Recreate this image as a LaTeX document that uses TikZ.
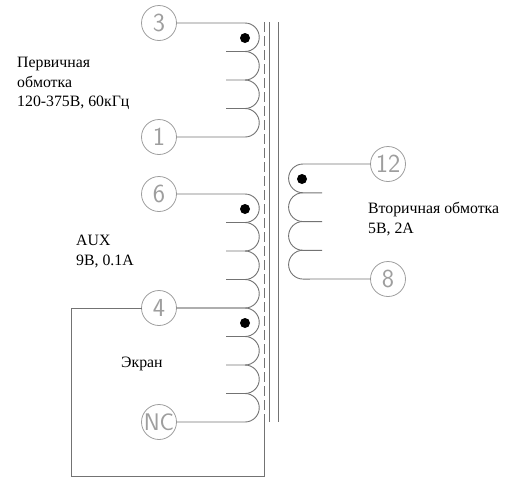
\documentclass[tikz,border=0pt]{standalone}
\usepackage{fontspec}
\setmainfont{Liberation Serif}
\usepackage{tikz}
\usetikzlibrary{positioning}

\definecolor{wirecol}{gray}{0.45}
\definecolor{termcol}{gray}{0.62}

\begin{document}
\begin{tikzpicture}[x=1pt, y=-1pt,
	term/.style={draw=termcol, circle, minimum size=35pt, inner sep=0pt, outer sep=0pt, line width=0.8pt, text=termcol, font=\fontsize{26}{26}\sffamily},
	wire/.style={draw=wirecol, line width=0.9pt},
	dotmark/.style={fill=black, circle, minimum size=10pt, inner sep=0pt},
	label/.style={align=left, anchor=north west, inner sep=0pt, font=\fontsize{15.8}{19.5}\selectfont},
	node distance=79pt]

	\useasboundingbox (0,0) rectangle (512,477);

	% Terminals
	\node (t3) [term] at (159,23) {3};
	\node (t1) [term, below=of t3] {1};
	\node (t6) [term] at (159,194) {6};
	\node (t4) [term, below=of t6] {4};
	\node (tNC) [term, below=of t4, font=\fontsize{24}{24}\sffamily] {NC};
	\node (t12) [term] at (388,164) {12};
	\node (t8) [term, below=80pt of t12] {8};

	% Coil start marks
	\node (d3) [dotmark] at (245,38) {};
	\node (d6) [dotmark] at (245,209) {};
	\node (d4) [dotmark] at (245,323) {};
	\node (d12) [dotmark] at (302,179) {};

	% Text
	\node (prim) [label] at (17,57) {Первичная\\обмотка\\120-375В, 60кГц};
	\node (aux) [label] at (76,235) {AUX\\9В, 0.1А};
	\node (scr) [label] at (121,357) {Экран};
	\node (sec) [label] at (368,202) {Вторичная обмотка\\5В, 2А};

	% Primary
	\draw[wire] (t3) -- (245,23) arc[start angle=-90, end angle=90, radius=14.25] -- ++(-19,0);
	\draw[wire] (245,51.5) arc[start angle=-90, end angle=90, radius=14.25] -- ++(-19,0);
	\draw[wire] (245,80) arc[start angle=-90, end angle=90, radius=14.25] -- ++(-19,0);
	\draw[wire] (245,108.5) arc[start angle=-90, end angle=90, radius=14.25] -- (t1);

	% AUX
	\draw[wire] (t6) -- (245,194) arc[start angle=-90, end angle=90, radius=14.25] -- ++(-19,0);
	\draw[wire] (245,222.5) arc[start angle=-90, end angle=90, radius=14.25] -- ++(-19,0);
	\draw[wire] (245,251) arc[start angle=-90, end angle=90, radius=14.25] -- ++(-19,0);
	\draw[wire] (245,279.5) arc[start angle=-90, end angle=90, radius=14.25] -- (t4);

	% Shield
	\draw[wire] (t4.east) -- (245,308) arc[start angle=-90, end angle=90, radius=14.25] -- ++(-19,0);
	\draw[wire] (245,336.5) arc[start angle=-90, end angle=90, radius=14.25] -- ++(-19,0);
	\draw[wire] (245,365) arc[start angle=-90, end angle=90, radius=14.25] -- ++(-19,0);
	\draw[wire] (245,393.5) arc[start angle=-90, end angle=90, radius=14.25] -- (tNC);

	% Secondary
	\draw[wire] (t12) -- (303,164) arc[start angle=-90, end angle=-270, radius=14.4] -- ++(19,0);
	\draw[wire] (303,192.75) arc[start angle=-90, end angle=-270, radius=14.4] -- ++(19,0);
	\draw[wire] (303,221.5) arc[start angle=-90, end angle=-270, radius=14.4] -- ++(19,0);
	\draw[wire] (303,250.25) arc[start angle=-90, end angle=-270, radius=14.4] -- (t8);

	% Core
	\draw[wire] (269,22) -- (269,422);
	\draw[wire] (278,22) -- (278,422);
	\draw[wire, dash pattern=on 10pt off 4pt] (264,22) -- (264,417);

	% Frame
	\draw[wire] (t4.west) -- (71,308) |- (264,476) -- (264,417);
\end{tikzpicture}
\end{document}
